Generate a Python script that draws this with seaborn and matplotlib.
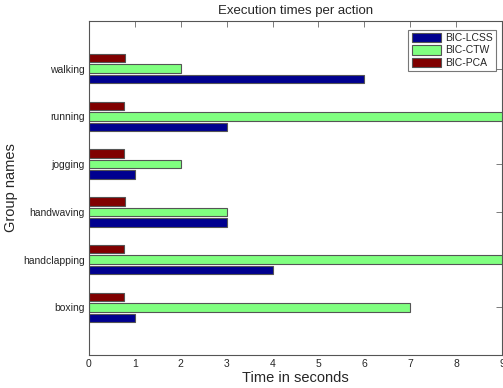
import matplotlib
matplotlib.use("Agg")
import matplotlib.pyplot as plt
import seaborn as sns
import pandas as pd
from matplotlib.patches import Patch

actions = ["walking", "running", "jogging", "handwaving", "handclapping", "boxing"]
bic_lcss = [6.0, 3.0, 1.0, 3.0, 4.0, 1.0]
bic_ctw = [2.0, 10.0, 2.0, 3.0, 10.0, 7.0]
bic_pca = [0.79, 0.77, 0.77, 0.79, 0.77, 0.76]

series_names = ["BIC-LCSS", "BIC-CTW", "BIC-PCA"]
series_colors = {"BIC-LCSS": "#00008F", "BIC-CTW": "#80FF80", "BIC-PCA": "#800000"}

df = pd.DataFrame({
    "action": actions * 3,
    "method": ["BIC-LCSS"] * 6 + ["BIC-CTW"] * 6 + ["BIC-PCA"] * 6,
    "time": bic_lcss + bic_ctw + bic_pca,
})

sns.set_style("white")
plt.rcParams["font.family"] = ["Liberation Sans", "DejaVu Sans"]

fig = plt.figure(figsize=(5.03, 3.88), dpi=100)
ax = fig.add_axes([89 / 503, 33 / 388, (502 - 89) / 503, (355 - 21) / 388])

# draw PCA on top of each group, LCSS at the bottom
hue_order = ["BIC-PCA", "BIC-CTW", "BIC-LCSS"]
sns.barplot(data=df, x="time", y="action", hue="method", order=actions,
            hue_order=hue_order, palette=series_colors, saturation=1, orient="h",
            width=0.66, gap=0.19, edgecolor="#555555", linewidth=0.8,
            legend=False, ax=ax, errorbar=None)

ax.set_xlim(0, 9)
ax.set_ylim(6, -1)
ax.set_xticks(range(0, 10))
ax.set_yticks(range(len(actions)))
ax.set_yticklabels(actions)

for s in ax.spines.values():
    s.set_visible(True)
    s.set_color("#555555")
    s.set_linewidth(0.8)
ax.tick_params(axis="both", direction="in", length=4, width=0.6, color="#666666",
               labelsize=7.5, top=True, right=True, pad=3)

ax.set_xlabel("Time in seconds", fontsize=10.5, labelpad=1)
ax.set_ylabel("Group names", fontsize=10.5, labelpad=4)
ax.set_title("Execution times per action", fontsize=9.5, pad=5)

handles = [Patch(facecolor=series_colors[n], edgecolor="#555555", linewidth=0.8, label=n)
           for n in series_names]
leg = ax.legend(handles=handles, loc="upper right", bbox_to_anchor=(0.99, 0.98),
                fontsize=7.5, frameon=True, fancybox=False, handlelength=2.8,
                handleheight=1.0, handletextpad=0.4, borderpad=0.3, labelspacing=0.2,
                borderaxespad=0.2)
leg.get_frame().set_edgecolor("#555555")
leg.get_frame().set_linewidth(0.8)

fig.savefig("out.png", dpi=100)
